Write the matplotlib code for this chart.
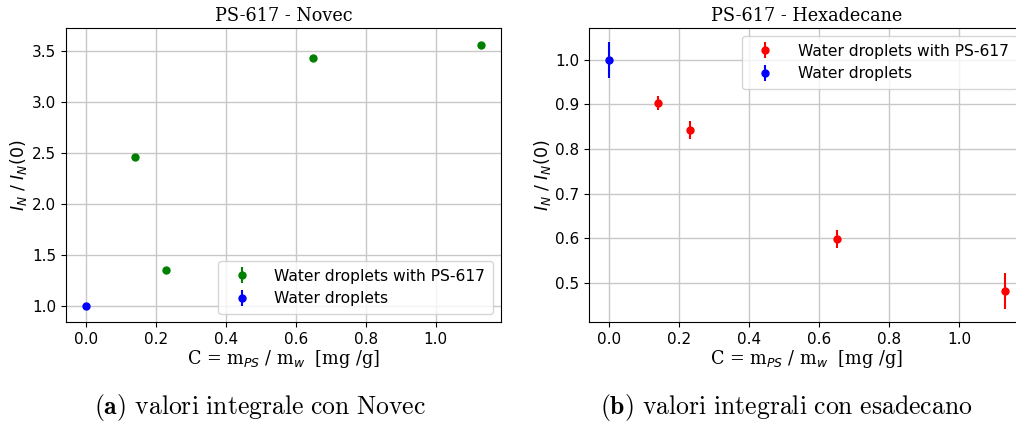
import matplotlib
matplotlib.use("Agg")
import matplotlib.pyplot as plt

# Data
c_ps = [0.14, 0.23, 0.65, 1.13]
c_water = [0.0]

novec_ps = [2.46, 1.35, 3.43, 3.56]
novec_ps_err = [0.01, 0.01, 0.01, 0.01]
novec_water = [1.0]
novec_water_err = [0.01]

hexa_ps = [0.903, 0.843, 0.598, 0.482]
hexa_ps_err = [0.015, 0.02, 0.02, 0.04]
hexa_water = [1.0]
hexa_water_err = [0.04]

xlabel = r"C = m$_{PS}$ / m$_{w}$  [mg /g]"
ylabel = r"$I_N$ / $I_N$(0)"

fig = plt.figure(figsize=(10.16, 4.23), dpi=100)

W, H = 1016, 423
ax1 = fig.add_axes([66 / W, (H - 322) / H, 435 / W, 294 / H])
ax2 = fig.add_axes([589.3 / W, (H - 322) / H, 435.3 / W, 294 / H])

def panel(ax, yps, yps_err, yw, yw_err, col, title, loc):
    ax.errorbar(c_ps, yps, yerr=yps_err, fmt='o', color=col, markersize=5,
                elinewidth=1.5, label='Water droplets with PS-617', zorder=3)
    ax.errorbar(c_water, yw, yerr=yw_err, fmt='o', color='blue', markersize=5,
                elinewidth=1.5, label='Water droplets', zorder=3)
    ax.grid(True, color='#c8c8c8', linewidth=1.0)
    ax.set_axisbelow(True)
    ax.set_title(title, family='DejaVu Serif', fontsize=12.7, pad=5)
    ax.set_xlabel(xlabel, family='DejaVu Serif', fontsize=12.7, labelpad=1)
    ax.set_ylabel(ylabel, fontsize=12.5, labelpad=2)
    ax.tick_params(labelsize=11)
    ax.legend(loc=loc, fontsize=11.2, handletextpad=1.1, borderpad=0.5)

panel(ax1, novec_ps, novec_ps_err, novec_water, novec_water_err, 'green',
      'PS-617 - Novec', 'lower right')
panel(ax2, hexa_ps, hexa_ps_err, hexa_water, hexa_water_err, 'red',
      'PS-617 - Hexadecane', 'upper right')

ax1.set_xlim(-0.0565, 1.1865)
ax2.set_xlim(-0.0565, 1.1865)
ax1.set_ylim(0.843, 3.722)
ax2.set_ylim(0.413, 1.071)
ax1.set_xticks([0.0, 0.2, 0.4, 0.6, 0.8, 1.0])
ax2.set_xticks([0.0, 0.2, 0.4, 0.6, 0.8, 1.0])

fig.text(260 / W, 1 - 407 / H, r"$\mathbf{(a)}$ $\mathrm{valori\ integrale\ con\ Novec}$",
         ha='center', va='center', fontsize=18.5, math_fontfamily='cm')
fig.text(786 / W, 1 - 407 / H, r"$\mathbf{(b)}$ $\mathrm{valori\ integrali\ con\ esadecano}$",
         ha='center', va='center', fontsize=18.5, math_fontfamily='cm')

fig.savefig('out.png', dpi=100)
